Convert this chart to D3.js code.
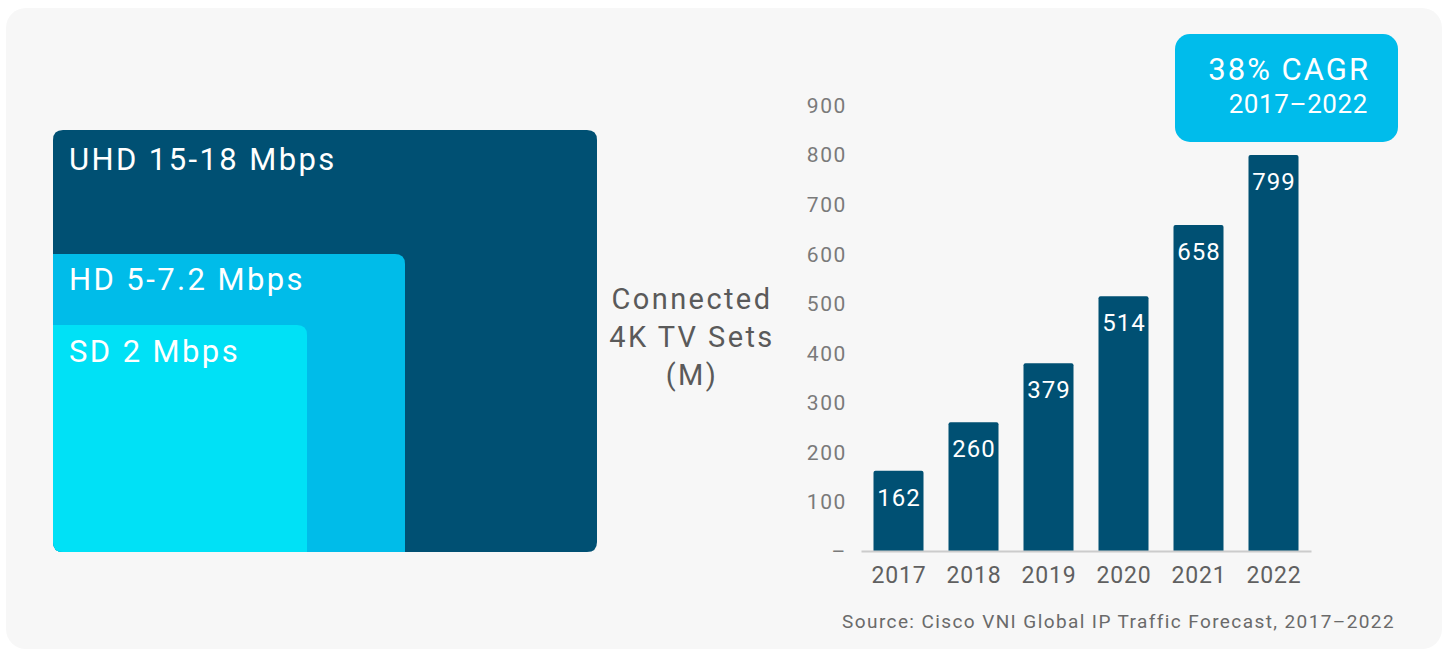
<!DOCTYPE html>
<html>
<head>
<meta charset="utf-8">
<script src="https://cdn.jsdelivr.net/npm/d3@7"></script>
<style>
  html, body { margin: 0; padding: 0; background: #ffffff; }
  svg { display: block; font-family: Roboto, "Noto Sans", sans-serif; }
</style>
</head>
<body>
<svg id="chart" width="1449" height="653"></svg>
<script>
// ---- Data ----
const years = ["2017", "2018", "2019", "2020", "2021", "2022"];
const connectedSets = [162, 260, 379, 514, 658, 799];
const yTicks = [0, 100, 200, 300, 400, 500, 600, 700, 800, 900];
const tierLabels = ["UHD 15-18 Mbps", "HD 5-7.2 Mbps", "SD 2 Mbps"];
const tierColors = ["#005073", "#00bce9", "#00e1f6"];
const axisTitleLines = ["Connected", "4K TV Sets", "(M)"];
const cagrLines = ["38% CAGR", "2017\u20132022"];
const sourceText = "Source: Cisco VNI Global IP Traffic Forecast, 2017\u20132022";

// ---- Layout ----
const W = 1449, H = 653;
const svg = d3.select("#chart");

// panel background
svg.append("rect").attr("x", 6).attr("y", 8).attr("width", W - 13).attr("height", H - 12)
  .attr("rx", 20).attr("fill", "#f7f7f7");

// ---- Left nested boxes ----
const boxLeft = 53, boxBottom = 552;
const tierRight = [597, 405, 307];
const tierTop = [130, 254, 325];
const labelOffset = [40, 36, 37];
const left = svg.append("g");
tierLabels.forEach((lab, i) => {
  const r = 10;
  let p;
  if (i === 0) {
    p = `M${boxLeft + r},${tierTop[i]} H${tierRight[i] - r} Q${tierRight[i]},${tierTop[i]} ${tierRight[i]},${tierTop[i] + r}
         V${boxBottom - r} Q${tierRight[i]},${boxBottom} ${tierRight[i] - r},${boxBottom}
         H${boxLeft + r} Q${boxLeft},${boxBottom} ${boxLeft},${boxBottom - r}
         V${tierTop[i] + r} Q${boxLeft},${tierTop[i]} ${boxLeft + r},${tierTop[i]} Z`;
  } else {
    p = `M${boxLeft},${tierTop[i]} H${tierRight[i] - r} Q${tierRight[i]},${tierTop[i]} ${tierRight[i]},${tierTop[i] + r}
         V${boxBottom} H${boxLeft + r} Q${boxLeft},${boxBottom} ${boxLeft},${boxBottom - r} Z`;
  }
  left.append("path").attr("d", p).attr("fill", tierColors[i]);
  left.append("text").attr("x", 69).attr("y", tierTop[i] + labelOffset[i])
    .attr("fill", "#ffffff").attr("font-size", 31).attr("letter-spacing", 2.4).text(lab);
});

// ---- Bar chart ----
const x = d3.scaleBand().domain(years).range([861, 1311]).paddingInner(1 / 3).paddingOuter(1 / 6);
const y = d3.scaleLinear().domain([0, 900]).range([551, 105]);

// y tick labels
const yAxis = d3.axisLeft(y).tickValues(yTicks).tickSize(0).tickPadding(0)
  .tickFormat(d => d === 0 ? "\u2013" : d3.format("d")(d));
const yg = svg.append("g").attr("transform", "translate(847,0)").call(yAxis);
yg.select(".domain").remove();
yg.selectAll("text").attr("font-size", 21).attr("fill", "#7a7a7a")
  .attr("font-family", "Roboto, sans-serif").attr("letter-spacing", 1.6).attr("dy", "0.35em");

// bars
const bars = svg.append("g");
years.forEach((yr, i) => {
  const x0 = x(yr), bw = x.bandwidth(), top = y(connectedSets[i]), bot = y(0), r = 2;
  bars.append("path")
    .attr("d", `M${x0},${bot} V${top + r} Q${x0},${top} ${x0 + r},${top} H${x0 + bw - r} Q${x0 + bw},${top} ${x0 + bw},${top + r} V${bot} Z`)
    .attr("fill", "#005073");
  bars.append("text").attr("x", x0 + bw / 2 + 0.5).attr("y", top + 35)
    .attr("text-anchor", "middle").attr("fill", "#ffffff").attr("font-size", 24)
    .attr("letter-spacing", 1).text(connectedSets[i]);
});

// x axis
const xAxis = d3.axisBottom(x).tickSize(0).tickPadding(0);
const xg = svg.append("g").attr("transform", "translate(0,551)").call(xAxis);
xg.select(".domain").attr("stroke", "#cccccc").attr("stroke-width", 2);
xg.selectAll("text").attr("font-size", 23).attr("fill", "#606060")
  .attr("font-family", "Roboto, sans-serif").attr("letter-spacing", 0.8).attr("dx", "0.4").attr("dy", "1.4em");

// axis title
const title = svg.append("text").attr("text-anchor", "middle").attr("fill", "#5a5a5a")
  .attr("font-size", 29).attr("letter-spacing", 2.4);
axisTitleLines.forEach((t, i) => {
  title.append("tspan").attr("x", 692).attr("y", 309 + i * 38).text(t);
});

// CAGR box
svg.append("rect").attr("x", 1175).attr("y", 34).attr("width", 223).attr("height", 108)
  .attr("rx", 15).attr("fill", "#00bceb");
svg.append("text").attr("x", 1370).attr("y", 80).attr("text-anchor", "end")
  .attr("fill", "#ffffff").attr("font-size", 31).attr("letter-spacing", 2).text(cagrLines[0]);
svg.append("text").attr("x", 1368).attr("y", 113).attr("text-anchor", "end")
  .attr("fill", "#ffffff").attr("font-size", 26).attr("letter-spacing", 0.6).text(cagrLines[1]);

// source
svg.append("text").attr("x", 1395).attr("y", 628).attr("text-anchor", "end")
  .attr("fill", "#6a6a6a").attr("font-size", 19).attr("letter-spacing", 1.4).text(sourceText);
</script>
</body>
</html>
